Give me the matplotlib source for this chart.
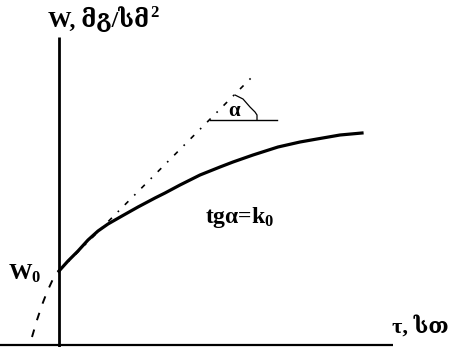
import matplotlib
matplotlib.use('Agg')
import matplotlib.pyplot as plt

plt.rcParams['font.family'] = ['Liberation Serif', 'DejaVu Serif']
plt.rcParams['mathtext.fontset'] = 'custom'
plt.rcParams['mathtext.rm'] = 'Liberation Serif:bold'
plt.rcParams['mathtext.it'] = 'Liberation Serif:bold'
plt.rcParams['mathtext.bf'] = 'Liberation Serif:bold'

# W(tau) curve (arbitrary units)
tau = [0, 0.9, 1.9, 2.9, 3.9, 4.9, 6.3, 7.9, 9.6, 10.6, 12.1, 14.1,
       16.1, 17.4, 19.4, 21.9, 24.1, 25.8, 28.1, 30.3]
w = [7.4, 8.4, 9.4, 10.5, 11.4, 12.1, 12.9, 13.8, 14.7, 15.2, 16.0, 17.0,
     17.8, 18.3, 19.0, 19.8, 20.3, 20.6, 21.0, 21.2]

# extrapolation of the curve below the W axis
tau_ext = [-2.7, -2.2, -1.7, -1.2, -0.6, 0]
w_ext = [0.8, 2.5, 4.0, 5.3, 6.6, 7.4]

# tangent at tau=0 (slope k0)
tau_tan = [0, 19.3]
w_tan = [7.4, 26.8]

# angle marker
tau_hor = [15.1, 21.8]
w_hor = [22.5, 22.5]
tau_arc = [17.6, 18.4, 19.1, 19.6, 19.8, 19.8]
w_arc = [25.0, 24.6, 23.8, 23.3, 23.0, 22.5]

fig = plt.figure(figsize=(4.51, 3.47), dpi=100)
ax = fig.add_axes([0, 0, 1, 1])
ax.set_xlim(-5.9, 39.2)
ax.set_ylim(-0.2, 34.5)
ax.axis('off')

# axes
ax.plot([0, 0], [-0.2, 30.8], color='black', lw=2.0, solid_capstyle='butt')
ax.plot([-5.9, 33.4], [0, 0], color='black', lw=1.6, solid_capstyle='butt')

ax.plot(tau, w, color='black', lw=2.3, solid_joinstyle='round')
ax.plot(tau_ext, w_ext, color='black', lw=1.4, linestyle=(0, (4, 5)))
ax.plot(tau_tan, w_tan, color='black', lw=1.2, linestyle=(0, (3, 5, 1, 5)))
ax.plot(tau_hor, w_hor, color='black', lw=1.0)
ax.plot(tau_arc, w_arc, color='black', lw=0.9)

ylab = ax.text(-1.1, 31.8, 'W, მგ/სმ', fontsize=17, fontweight='bold',
               ha='left', va='baseline')
ax.annotate('2', xy=(1, 1), xycoords=ylab, xytext=(0.5, 1), textcoords='offset points',
            fontsize=12, fontweight='bold', ha='left', va='top')
ax.text(33.3, 1.2, 'τ, სთ', fontsize=16, fontweight='bold', ha='left', va='baseline')
ax.text(-5.1, 6.5, 'W$_0$', fontsize=17, fontweight='bold', ha='left', va='baseline')
ax.text(14.6, 12.2, 'tgα=k$_0$', fontsize=17, fontweight='bold', ha='left', va='baseline')
ax.text(16.9, 22.9, 'α', fontsize=15, fontweight='bold', ha='left', va='baseline')

fig.savefig('out.png', dpi=100)
